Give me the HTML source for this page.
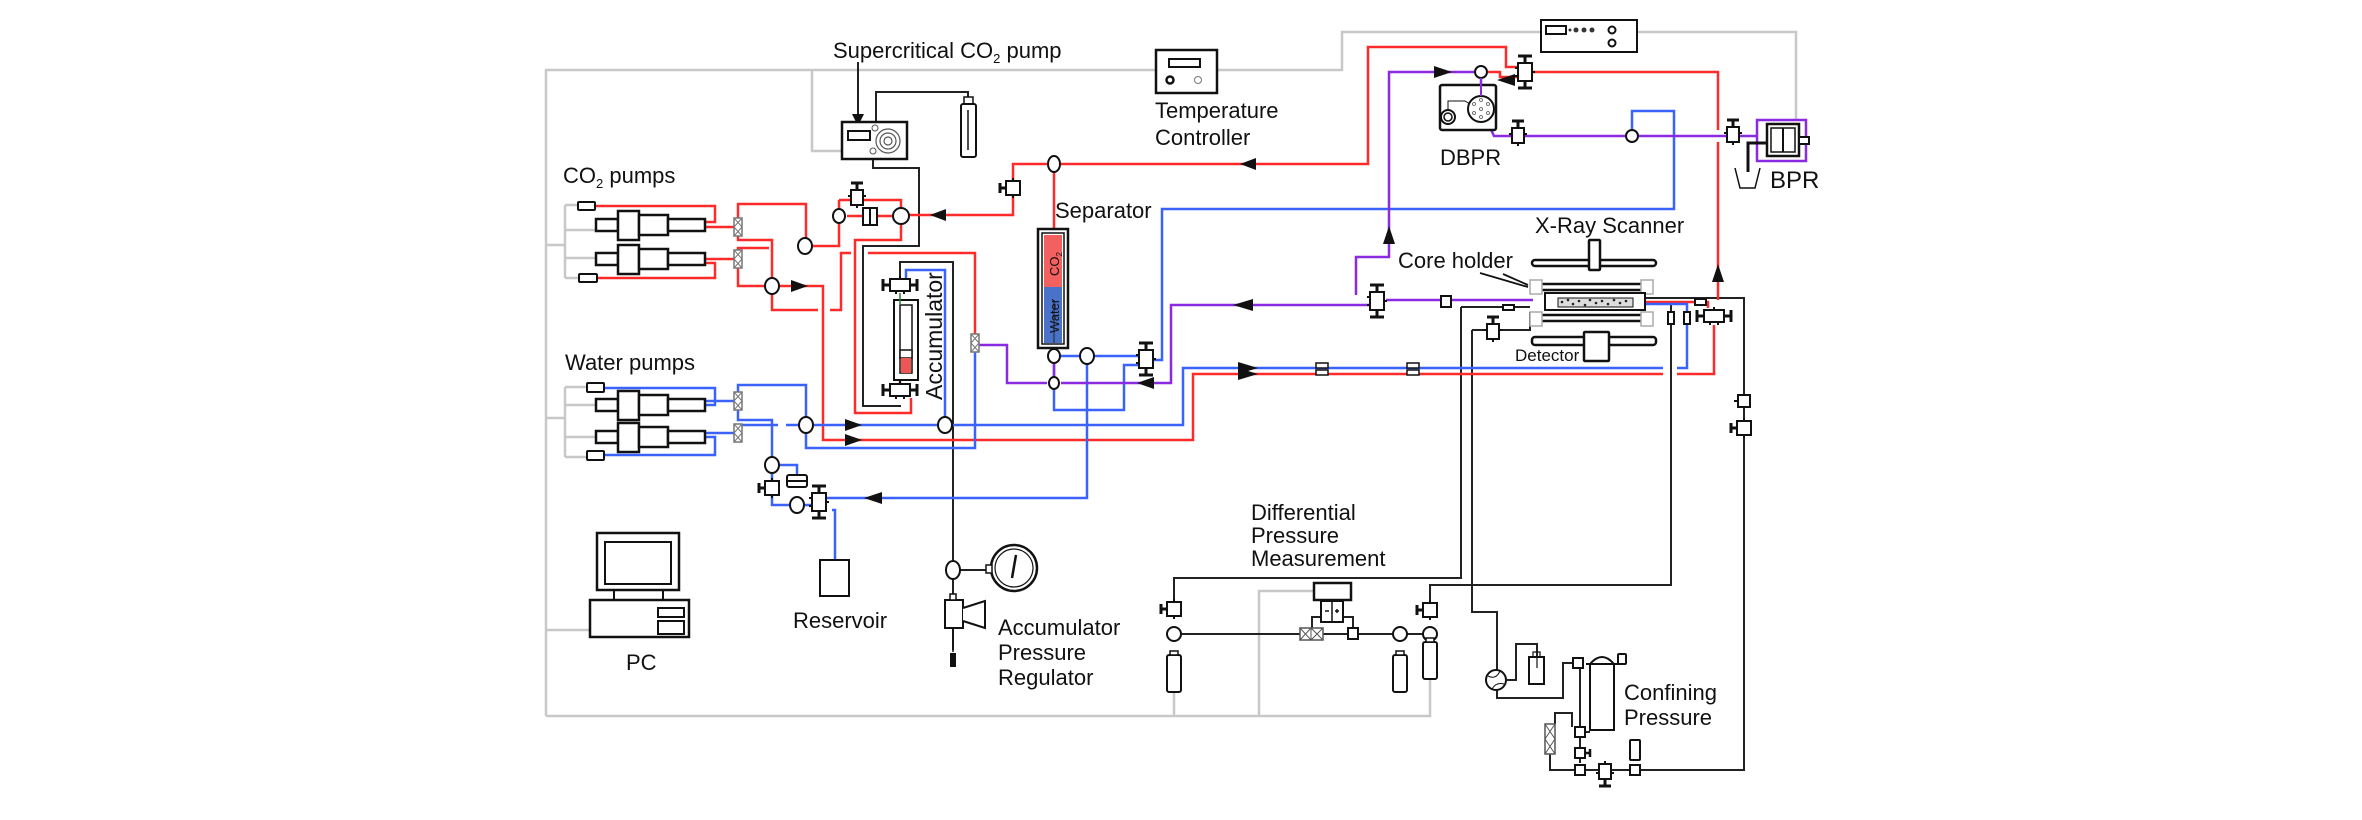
<!DOCTYPE html>
<html><head><meta charset="utf-8"><style>
html,body{margin:0;padding:0;background:#fff;}
svg{display:block;}
text{font-family:"Liberation Sans",Arial,sans-serif;fill:#111;}
</style></head><body>
<svg width="2362" height="820" viewBox="0 0 2362 820" xmlns="http://www.w3.org/2000/svg">
<defs>
<symbol id="v" overflow="visible"><path d="M0,-8V-14M-6,-15H6" stroke="#111" stroke-width="3" fill="none"/><rect x="-6" y="-8" width="12" height="15" fill="#fff" stroke="#111" stroke-width="2"/><path d="M-9,-2H-6M6,-2H9M0,7V10" stroke="#111" stroke-width="2"/></symbol>
<symbol id="vh" overflow="visible"><path d="M-7,0H-12M-13,-5V5" stroke="#111" stroke-width="3" fill="none"/><rect x="-7" y="-7" width="14" height="14" fill="#fff" stroke="#111" stroke-width="2"/><path d="M0,-7V-10M0,7V10" stroke="#111" stroke-width="2"/></symbol>
<symbol id="v4" overflow="visible"><path d="M0,-9V-15M-7,-16H7M0,9V15M-7,16H7" stroke="#111" stroke-width="3" fill="none"/><rect x="-7" y="-9" width="14" height="18" fill="#fff" stroke="#111" stroke-width="2"/><path d="M-10,-4H-7M-10,4H-7M7,0H10" stroke="#111" stroke-width="2"/></symbol>
<symbol id="vx" overflow="visible"><path d="M-10,0H-16M-17,-6V6M10,0H16M17,-6V6" stroke="#111" stroke-width="3" fill="none"/><rect x="-10" y="-6" width="20" height="12" fill="#fff" stroke="#111" stroke-width="2"/><path d="M-4,6V9M4,6V9M0,-6V-9" stroke="#111" stroke-width="2"/></symbol>
<symbol id="f" overflow="visible"><rect x="-4" y="-9" width="8" height="18" fill="#fff" stroke="#777" stroke-width="1.5"/><path d="M-4,-9L4,0M4,-9L-4,0M-4,0L4,9M4,0L-4,9" stroke="#777" stroke-width="1"/></symbol>
<symbol id="pump" overflow="visible"><g fill="#fff" stroke="#111" stroke-width="2.5"><rect x="0" y="-6" width="22" height="12"/><rect x="22" y="-14" width="21" height="29"/><rect x="43" y="-10" width="29" height="20"/><rect x="72" y="-6" width="37" height="12"/></g></symbol>
<symbol id="bot" overflow="visible"><rect x="-7" y="0" width="14" height="37" rx="2" fill="#fff" stroke="#111" stroke-width="2"/><rect x="-4" y="-4" width="8" height="4" fill="#fff" stroke="#111" stroke-width="1.5"/></symbol>
<symbol id="br" overflow="visible"><rect x="-6" y="-5" width="12" height="5" fill="#fff" stroke="#111" stroke-width="1.5"/><rect x="-6" y="2" width="12" height="5" fill="#fff" stroke="#111" stroke-width="1.5"/></symbol>
<marker id="a" viewBox="0 0 10 10" refX="5" refY="5" markerWidth="6" markerHeight="6" orient="auto-start-reverse"><path d="M0,0L10,5L0,10z" fill="#111"/></marker>
</defs>

<!-- gray signal lines -->
<g stroke="#c8c8c8" stroke-width="2.5" fill="none">
<path d="M546,716V70H1156M1217,70H1342V32H1541M1637,32H1796V120"/>
<path d="M812,70V151H842"/>
<path d="M546,245H565M565,205V278M565,205H578M565,230H596M565,258H596M565,278H579"/>
<path d="M546,418H565M565,387V457M565,387H587M565,405H596M565,437H596M565,457H587"/>
<path d="M546,630H597"/>
<path d="M546,716H1430V677M1174,692V716M1259,716V591H1314"/>
</g>

<!-- black lines -->
<g stroke="#222" stroke-width="2" fill="none">
<path d="M858,62V120" marker-end="url(#a)"/>
<path d="M876,128V92H968V97"/>
<path d="M873,152V168H919V246H863V406H901"/>
<path d="M900,280V262H953V650"/>
<path d="M1461,307H1530M1461,307V578H1174V600"/>
<path d="M1472,330H1530V312M1472,330V612H1497V670"/>
<path d="M1497,690V698H1563V663H1573M1507,680H1516V644H1537V657"/>
<path d="M1671,305V585H1430V600"/>
<path d="M1640,298H1744V770H1640"/>
<path d="M1174,634H1300M1323,634H1348M1358,634H1430"/>
<path d="M1312,634V617H1321M1353,628V617H1343"/>
<path d="M1580,668V727M1580,737V763M1590,732H1580M1555,724V713H1572V727M1550,754V770H1575M1585,770H1630"/>
<path d="M953,570H991"/>
</g>

<!-- red lines -->
<g stroke="#ff2a2a" stroke-width="2.5" fill="none">
<path d="M595,206H715V222H705M705,227H734M705,259H734M597,278H715V263H705"/>
<path d="M738,218V204H806V239M738,236V240H772V279M738,250V248H769M738,268V286H765"/>
<path d="M812,246H839V216M839,200H857M839,200V210M857,200H901V208M847,216H863M877,216H893"/>
<path d="M901,224V240H855V413H911V398"/>
<path d="M779,286H823V440H1193V374H1663M1677,374H1714V325"/>
<path d="M772,293V310H818M830,310H841V253H851M868,253H975V334"/>
<path d="M909,215H1013V164H1047M1061,164H1368V47H1506V67H1518M1054,171V229"/>
<path d="M1488,72H1500V77H1518"/>
<path d="M1532,72H1718V130M1718,142V300"/>
<path d="M1633,302H1695M1705,302H1708V308"/>
<path d="M900,373V383"/>
</g>

<!-- blue lines -->
<g stroke="#3a62ff" stroke-width="2.5" fill="none">
<path d="M604,388H715V405H705M705,401H734M705,433H734M604,455H715V437H705"/>
<path d="M738,392V385H806V418M738,410V420H772V458M738,425H778M786,425H799"/>
<path d="M813,425H938M952,425H1183V368H1663M1677,368H1687V304H1633"/>
<path d="M806,432V448H975V352"/>
<path d="M945,418V270H906V278"/>
<path d="M779,465H797V475M772,472V505H790M804,505H812M826,498H1087V364M832,510H835V560"/>
<path d="M1054,349V343M1061,356H1080M1094,356H1140M1054,363V410H1124V365H1140"/>
<path d="M1152,360H1162V209H1674V111H1632V129"/>
</g>

<!-- purple lines -->
<g stroke="#8a2be2" stroke-width="2.5" fill="none">
<path d="M977,345H1007V383H1047M1061,383H1171V305H1370"/>
<path d="M1386,300H1533"/>
<path d="M1356,295V257H1389V72H1474M1481,79V95"/>
<path d="M1481,108L1494,136H1511M1525,136H1625M1639,136H1726M1740,136H1757"/>
<path d="M1054,363V376"/>
</g>

<!-- arrowheads -->
<g fill="#111">
<path d="M1240,164l16,-6v12z"/>
<path d="M930,215l16,-6v12z"/>
<path d="M1452,72l-18,-6v12z"/>
<path d="M1497,80l18,-6v12z"/>
<path d="M1389,226l-6,18h12z"/>
<path d="M1718,264l-6,18h12z"/>
<path d="M1233,305l20,-6v12z"/>
<path d="M1137,383l17,-6v12z"/>
<path d="M808,286l-17,-6v12z"/>
<path d="M862,425l-17,-6v12z"/>
<path d="M862,440l-17,-6v12z"/>
<path d="M1258,368l-20,-6v12z"/>
<path d="M1258,374l-20,-6v12z"/>
<path d="M864,498l18,-6v12z"/>
</g>

<!-- pumps -->
<use href="#pump" x="596" y="225"/>
<use href="#pump" x="596" y="259"/>
<use href="#pump" x="596" y="405"/>
<use href="#pump" x="596" y="437"/>
<g fill="#fff" stroke="#111" stroke-width="2">
<rect x="578" y="202" width="17" height="8" rx="1"/>
<rect x="579" y="274" width="18" height="8" rx="1"/>
<rect x="587" y="383" width="17" height="9" rx="1"/>
<rect x="587" y="451" width="17" height="9" rx="1"/>
</g>
<use href="#f" x="738" y="227"/><use href="#f" x="738" y="259"/>
<use href="#f" x="738" y="401"/><use href="#f" x="738" y="433"/>
<use href="#f" x="975" y="343"/>

<!-- nodes -->
<g fill="#fff" stroke="#111" stroke-width="2">
<ellipse cx="805" cy="246" rx="7" ry="8"/>
<ellipse cx="772" cy="286" rx="7" ry="8"/>
<ellipse cx="839" cy="216" rx="6" ry="7"/>
<ellipse cx="901" cy="216" rx="8" ry="8"/>
<ellipse cx="806" cy="425" rx="7" ry="8"/>
<ellipse cx="945" cy="425" rx="7" ry="8"/>
<ellipse cx="772" cy="465" rx="7" ry="8"/>
<ellipse cx="797" cy="505" rx="7" ry="8"/>
<ellipse cx="1054" cy="164" rx="6" ry="8"/>
<ellipse cx="1054" cy="356" rx="6" ry="7"/>
<ellipse cx="1087" cy="356" rx="7" ry="8"/>
<ellipse cx="1054" cy="383" rx="5" ry="6"/>
<circle cx="1481" cy="72" r="6"/>
<circle cx="1632" cy="136" r="6"/>
<ellipse cx="953" cy="570" rx="7" ry="9"/>
<circle cx="1174" cy="634" r="7"/>
<circle cx="1400" cy="634" r="7"/>
<circle cx="1430" cy="634" r="7"/>
</g>
<g fill="#fff" stroke="#111" stroke-width="2">
<rect x="863" y="208" width="14" height="17"/><path d="M870,208V225"/>
<rect x="787" y="475" width="20" height="12" rx="2"/><path d="M787,481H807"/>
</g>

<!-- valves -->
<use href="#v" x="857" y="198"/>
<use href="#vh" x="1013" y="188"/>
<use href="#vh" x="772" y="488"/>
<use href="#v4" x="819" y="502"/>
<use href="#v4" x="1146" y="359"/>
<use href="#v4" x="1377" y="301"/>
<use href="#v4" x="1525" y="72"/>
<use href="#v" x="1518" y="136"/>
<use href="#v" x="1733" y="135"/>
<use href="#v" x="1493" y="332"/>
<use href="#vx" x="1714" y="316"/>
<use href="#vx" x="900" y="285"/>
<use href="#vx" x="900" y="390"/>
<use href="#vh" x="1744" y="428"/>
<use href="#vh" x="1174" y="609"/>
<use href="#vh" x="1430" y="610"/>
<g fill="#fff" stroke="#111" stroke-width="2">
<rect x="1738" y="395" width="12" height="12"/><path d="M1738,401H1734"/>
<rect x="1441" y="296" width="10" height="11"/>
<rect x="1503" y="305" width="11" height="5"/>
<rect x="1695" y="299" width="11" height="6"/>
<rect x="1668" y="312" width="6" height="12"/>
<rect x="1684" y="312" width="6" height="12"/>
</g>
<use href="#br" x="1322" y="368"/><use href="#br" x="1413" y="368"/>

<!-- supercritical pump -->
<rect x="842" y="122" width="65" height="37" fill="#fff" stroke="#111" stroke-width="2.5"/>
<rect x="848" y="131" width="22" height="9" fill="#fff" stroke="#111" stroke-width="2"/>
<g fill="none" stroke="#555" stroke-width="1.2"><circle cx="888" cy="141" r="12"/><circle cx="888" cy="141" r="8"/><circle cx="888" cy="141" r="4"/></g>
<circle cx="875" cy="128" r="3" fill="#fff" stroke="#555"/><circle cx="873" cy="151" r="3" fill="#fff" stroke="#555"/>
<rect x="961" y="104" width="15" height="53" rx="2" fill="#fff" stroke="#111" stroke-width="2"/>
<path d="M964,104V97H973V104M968,110V150" stroke="#111" stroke-width="1.5" fill="none"/>

<!-- temp controller -->
<rect x="1156" y="50" width="61" height="43" fill="#fff" stroke="#111" stroke-width="2.5"/>
<rect x="1169" y="59" width="31" height="8" fill="#fff" stroke="#111" stroke-width="2"/>
<circle cx="1170" cy="80" r="3.5" fill="#fff" stroke="#111" stroke-width="2.5"/><circle cx="1198" cy="80" r="3.5" fill="#fff" stroke="#777"/>

<!-- DBPR controller -->
<rect x="1541" y="20" width="96" height="32" fill="#fff" stroke="#111" stroke-width="2"/>
<rect x="1546" y="26" width="20" height="8" fill="#fff" stroke="#111" stroke-width="2"/>
<g fill="#333"><circle cx="1570" cy="30" r="1.5"/><circle cx="1576" cy="30" r="2.5"/><circle cx="1584" cy="30" r="2.5"/><circle cx="1592" cy="30" r="2.5"/></g>
<circle cx="1612" cy="30" r="3.5" fill="#fff" stroke="#111" stroke-width="2"/><circle cx="1612" cy="43" r="3.5" fill="#fff" stroke="#111" stroke-width="2"/>

<!-- DBPR -->
<rect x="1440" y="85" width="56" height="45" rx="2" fill="#fff" stroke="#111" stroke-width="2.5"/>
<circle cx="1448" cy="117" r="7" fill="#fff" stroke="#111" stroke-width="2"/><circle cx="1448" cy="117" r="4" fill="none" stroke="#111" stroke-width="1.5"/>
<path d="M1448,110V101H1465L1470,104" stroke="#111" stroke-width="1" fill="none"/>
<circle cx="1481" cy="109" r="13" fill="#fff" stroke="#111" stroke-width="2"/>
<g fill="#fff" stroke="#555" stroke-width="0.8"><circle cx="1481" cy="100" r="1.5"/><circle cx="1488" cy="104" r="1.5"/><circle cx="1488" cy="113" r="1.5"/><circle cx="1481" cy="117" r="1.5"/><circle cx="1474" cy="113" r="1.5"/><circle cx="1474" cy="104" r="1.5"/><circle cx="1481" cy="109" r="1.5"/></g>
<path d="M1481,78V96" stroke="#8a2be2" stroke-width="2"/>

<!-- BPR -->
<rect x="1757" y="120" width="49" height="41" fill="none" stroke="#8a2be2" stroke-width="2.5"/>
<rect x="1767" y="124" width="32" height="32" fill="#fff" stroke="#111" stroke-width="2.5"/>
<rect x="1771" y="128" width="24" height="24" fill="#fff" stroke="#111" stroke-width="1.5"/><path d="M1783,128V152" stroke="#111" stroke-width="2"/>
<rect x="1799" y="137" width="10" height="7" fill="#fff" stroke="#111" stroke-width="2"/>
<path d="M1767,143H1748V172" stroke="#111" stroke-width="3" fill="none"/>
<path d="M1735,168L1740,188H1755L1760,168" stroke="#111" stroke-width="1.5" fill="none"/>

<!-- separator -->
<rect x="1038" y="229" width="30" height="119" fill="#fff" stroke="#111" stroke-width="2.5"/>
<rect x="1042" y="233" width="22" height="111" fill="#fff" stroke="#111" stroke-width="1.5"/>
<rect x="1044" y="235" width="18" height="52" fill="#f26060"/>
<rect x="1044" y="287" width="18" height="56" fill="#4a72c8"/>
<path d="M1054,300V343" stroke="#222" stroke-width="1"/>
<text transform="translate(1059,276) rotate(-90)" font-size="13" fill="#111">CO<tspan font-size="8" dy="3">2</tspan></text>
<text transform="translate(1059,333) rotate(-90)" font-size="13" fill="#111">Water</text>

<!-- accumulator -->
<rect x="894" y="300" width="24" height="80" fill="#fff" stroke="#111" stroke-width="2"/>
<rect x="900" y="305" width="12" height="68" fill="#fff" stroke="#111" stroke-width="1.5"/>
<rect x="900" y="350" width="12" height="8" fill="#fff" stroke="#111" stroke-width="1.5"/>
<rect x="901" y="358" width="10" height="15" fill="#f05555"/>
<path d="M900,293V305" stroke="#2a7a2a" stroke-width="1.5"/>

<!-- core holder -->
<g stroke="#111" stroke-width="2.5" fill="#fff">
<rect x="1532" y="260" width="124" height="6" rx="3"/><rect x="1589" y="240" width="11" height="30" rx="1"/>
<rect x="1532" y="337" width="124" height="8" rx="3"/><rect x="1584" y="332" width="25" height="29" rx="1"/>
<rect x="1535" y="284" width="115" height="6" rx="2"/>
<rect x="1535" y="315" width="115" height="6" rx="2"/>
</g>
<g fill="#fff" stroke="#aaa" stroke-width="1.5">
<rect x="1530" y="280" width="12" height="14"/><rect x="1641" y="280" width="12" height="14"/>
<rect x="1530" y="312" width="12" height="14"/><rect x="1641" y="312" width="12" height="14"/>
</g>
<rect x="1545" y="293" width="100" height="17" fill="#fff" stroke="#111" stroke-width="2"/>
<rect x="1558" y="298" width="75" height="9" fill="#ddd" stroke="#111" stroke-width="1"/>
<g fill="#222"><circle cx="1562" cy="302" r="1.3"/><circle cx="1568" cy="300" r="1.3"/><circle cx="1573" cy="304" r="1.3"/><circle cx="1579" cy="301" r="1.3"/><circle cx="1585" cy="305" r="1.3"/><circle cx="1590" cy="300" r="1.3"/><circle cx="1596" cy="303" r="1.3"/><circle cx="1602" cy="301" r="1.3"/><circle cx="1608" cy="304" r="1.3"/><circle cx="1614" cy="300" r="1.3"/><circle cx="1620" cy="303" r="1.3"/><circle cx="1626" cy="301" r="1.3"/></g>
<path d="M1480,273L1528,287M1503,274L1528,285" stroke="#111" stroke-width="1.8"/>

<!-- accumulator pressure regulator -->
<circle cx="1014" cy="568" r="23" fill="#fff" stroke="#111" stroke-width="2.5"/>
<circle cx="1014" cy="568" r="19" fill="none" stroke="#111" stroke-width="1.2"/>
<path d="M1012,578L1016,555" stroke="#111" stroke-width="2.5"/>
<rect x="986" y="565" width="6" height="8" fill="#fff" stroke="#111" stroke-width="1.5"/>
<rect x="945" y="600" width="18" height="28" fill="#fff" stroke="#111" stroke-width="2"/>
<path d="M963,608L985,601V628L963,621" fill="#fff" stroke="#111" stroke-width="2"/>
<rect x="950" y="594" width="6" height="6" fill="#fff" stroke="#111" stroke-width="1.5"/>
<path d="M953,628V652" stroke="#111" stroke-width="1.5"/>
<rect x="950" y="653" width="6" height="14" fill="#111"/>

<!-- reservoir, PC -->
<rect x="820" y="560" width="29" height="36" fill="#fff" stroke="#111" stroke-width="2"/>
<rect x="597" y="533" width="82" height="57" fill="#fff" stroke="#111" stroke-width="2.5"/>
<rect x="605" y="542" width="66" height="42" fill="#fff" stroke="#111" stroke-width="2"/>
<path d="M614,590V600M663,590V600" stroke="#111" stroke-width="2"/>
<rect x="590" y="600" width="99" height="37" fill="#fff" stroke="#111" stroke-width="2.5"/>
<rect x="658" y="608" width="26" height="9" fill="#fff" stroke="#111" stroke-width="2"/>
<rect x="658" y="621" width="26" height="13" fill="#fff" stroke="#111" stroke-width="2"/>

<!-- differential pressure -->
<use href="#bot" x="1174" y="655"/>
<use href="#bot" x="1400" y="655"/>
<use href="#bot" x="1430" y="642"/>
<rect x="1300" y="628" width="23" height="12" fill="#fff" stroke="#555" stroke-width="1.5"/>
<path d="M1300,628L1311,640M1311,628L1300,640M1311,628L1323,640M1323,628L1311,640M1311,628V640" stroke="#555" stroke-width="1"/>
<rect x="1348" y="628" width="10" height="11" fill="#fff" stroke="#111" stroke-width="2"/>
<rect x="1314" y="583" width="37" height="17" fill="#fff" stroke="#111" stroke-width="2.5"/>
<rect x="1321" y="601" width="22" height="21" fill="#fff" stroke="#111" stroke-width="2"/><path d="M1332,601V622M1325,611H1329M1335,611H1339M1337,609V613" stroke="#111" stroke-width="1.5"/>

<!-- confining pressure -->
<circle cx="1496" cy="680" r="10" fill="#fff" stroke="#111" stroke-width="2"/>
<path d="M1488,676Q1496,680 1500,671M1492,689Q1496,682 1504,684" stroke="#111" stroke-width="1" fill="none"/>
<rect x="1529" y="657" width="15" height="27" fill="#fff" stroke="#111" stroke-width="2"/><path d="M1533,657V652H1540V657M1537,657V668" stroke="#111" stroke-width="1.2" fill="none"/>
<path d="M1590,730V664Q1602,650 1614,664V730Z" fill="#fff" stroke="#111" stroke-width="2"/>
<path d="M1586,664H1618" stroke="#111" stroke-width="2"/>
<rect x="1618" y="654" width="8" height="10" rx="1" fill="#fff" stroke="#111" stroke-width="2"/>
<g fill="#fff" stroke="#111" stroke-width="2">
<rect x="1573" y="658" width="10" height="10"/>
<rect x="1575" y="727" width="10" height="10"/>
<rect x="1575" y="748" width="10" height="10"/>
<rect x="1575" y="765" width="10" height="10"/>
<rect x="1630" y="765" width="10" height="10"/>
<rect x="1630" y="740" width="10" height="20" rx="1"/>
</g>
<path d="M1585,753H1590M1590,749V757" stroke="#111" stroke-width="2.5"/>
<use href="#v" x="1605" y="771" transform="rotate(180 1605 771)"/>
<rect x="1545" y="724" width="10" height="30" fill="#fff" stroke="#555" stroke-width="1.5"/>
<path d="M1545,724L1555,739M1555,724L1545,739M1545,739L1555,754M1555,739L1545,754" stroke="#555" stroke-width="1"/>

<!-- labels -->
<g font-size="22">
<text x="833" y="58">Supercritical CO<tspan font-size="13" dy="5">2</tspan><tspan dy="-5"> pump</tspan></text>
<text x="1155" y="118">Temperature</text>
<text x="1155" y="145">Controller</text>
<text x="563" y="183">CO<tspan font-size="13" dy="5">2</tspan><tspan dy="-5"> pumps</tspan></text>
<text x="565" y="370">Water pumps</text>
<text x="1055" y="218">Separator</text>
<text x="1440" y="165">DBPR</text>
<text x="1770" y="188" font-size="24">BPR</text>
<text x="1535" y="233">X-Ray Scanner</text>
<text x="1398" y="268">Core holder</text>
<text x="1251" y="520">Differential</text>
<text x="1251" y="543">Pressure</text>
<text x="1251" y="566">Measurement</text>
<text x="998" y="635">Accumulator</text>
<text x="998" y="660">Pressure</text>
<text x="998" y="685">Regulator</text>
<text x="793" y="628">Reservoir</text>
<text x="626" y="670">PC</text>
<text x="1624" y="700">Confining</text>
<text x="1624" y="725">Pressure</text>
</g>
<text x="1515" y="361" font-size="17">Detector</text>
<text transform="translate(942,400) rotate(-90)" font-size="23">Accumulator</text>
</svg>
</body></html>
